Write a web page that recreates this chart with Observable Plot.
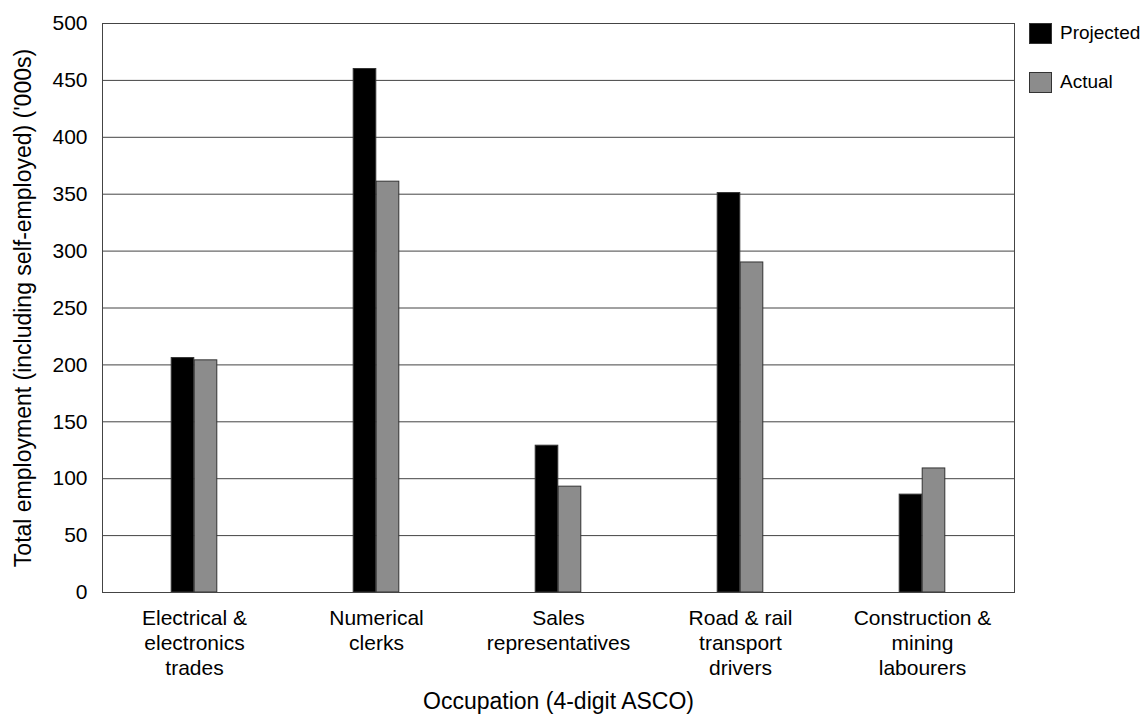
<!DOCTYPE html>
<html>
<head>
<meta charset="utf-8">
<script src="https://cdn.jsdelivr.net/npm/d3@7"></script>
<script src="https://cdn.jsdelivr.net/npm/@observablehq/plot@0.6"></script>
<style>
  html, body { margin: 0; padding: 0; background: #fff; }
  #wrap { position: relative; width: 1145px; height: 715px; font-family: "Liberation Sans", Arial, sans-serif; }
  #legend { position: absolute; left: 1029px; top: 23px; font-size: 19px; color: #000; }
  .item { display: flex; align-items: center; height: 20px; margin-bottom: 29px; }
  .sw { width: 21px; height: 19px; border: 1px solid #333; margin-right: 8px; box-sizing: content-box; }
</style>
</head>
<body>
<div id="wrap">
  <div id="chart"></div>
  <div id="legend"></div>
</div>
<script>
// Occupations (x categories) and their multi-line tick labels
const occupations = [
  "Electrical & electronics trades",
  "Numerical clerks",
  "Sales representatives",
  "Road & rail transport drivers",
  "Construction & mining labourers"
];
const tickLabels = [
  "Electrical &\nelectronics\ntrades",
  "Numerical\nclerks",
  "Sales\nrepresentatives",
  "Road & rail\ntransport\ndrivers",
  "Construction &\nmining\nlabourers"
];
// Total employment, thousands
const projected = [206, 460, 129, 351, 86];
const actual = [204, 361, 93, 290, 109];

const seriesNames = ["Projected", "Actual"];
const seriesColors = ["#000000", "#8c8c8c"];

const rows = occupations.flatMap((o, i) => [
  {occupation: o, series: "Projected", value: projected[i]},
  {occupation: o, series: "Actual", value: actual[i]}
]);

const W = 1145, H = 715;
const mL = 102, mR = 131, mT = 23, mB = 123;
const band = (W - mL - mR) / occupations.length;
const barW = 23;
const half = band / 2;

const labelOf = new Map(occupations.map((o, i) => [o, tickLabels[i]]));

const chart = Plot.plot({
  width: W,
  height: H,
  marginLeft: mL,
  marginRight: mR,
  marginTop: mT,
  marginBottom: mB,
  style: {fontFamily: "Liberation Sans, Arial, sans-serif", fontSize: "21px", color: "#000", background: "#fff"},
  x: {type: "band", domain: occupations, padding: 0},
  y: {domain: [0, 500]},
  color: {domain: seriesNames, range: seriesColors},
  marks: [
    Plot.gridY(d3.range(0, 501, 50), {stroke: "#444", strokeOpacity: 1, strokeWidth: 1}),
    Plot.barY(rows.filter(d => d.series === "Projected"), {
      x: "occupation", y: "value", fill: "series",
      stroke: "#333", strokeWidth: 1,
      insetLeft: half - barW, insetRight: half
    }),
    Plot.barY(rows.filter(d => d.series === "Actual"), {
      x: "occupation", y: "value", fill: "series",
      stroke: "#333", strokeWidth: 1,
      insetLeft: half, insetRight: half - barW
    }),
    Plot.frame({stroke: "#444"}),
    Plot.axisY(d3.range(0, 501, 50), {
      tickSize: 0, tickPadding: 15, fontSize: 21,
      label: null
    }),
    Plot.axisY({
      ticks: [], tickSize: 0, fontSize: 23,
      label: "Total employment (including self-employed) ('000s)",
      labelAnchor: "center", labelArrow: "none", labelOffset: 88
    }),
    Plot.axisX({
      tickSize: 0, tickPadding: 15, fontSize: 21, lineHeight: 1.19,
      tickFormat: d => labelOf.get(d),
      label: null
    }),
    Plot.axisX({
      ticks: [], tickSize: 0, fontSize: 23,
      label: "Occupation (4-digit ASCO)",
      labelAnchor: "center", labelArrow: "none", labelOffset: 116
    })
  ]
});
document.getElementById("chart").appendChild(chart);

// Legend to the right of the plot frame
const legend = document.getElementById("legend");
seriesNames.forEach((name, i) => {
  const item = document.createElement("div");
  item.className = "item";
  const sw = document.createElement("div");
  sw.className = "sw";
  sw.style.background = seriesColors[i];
  const t = document.createElement("span");
  t.textContent = name;
  item.appendChild(sw);
  item.appendChild(t);
  legend.appendChild(item);
});
</script>
</body>
</html>
